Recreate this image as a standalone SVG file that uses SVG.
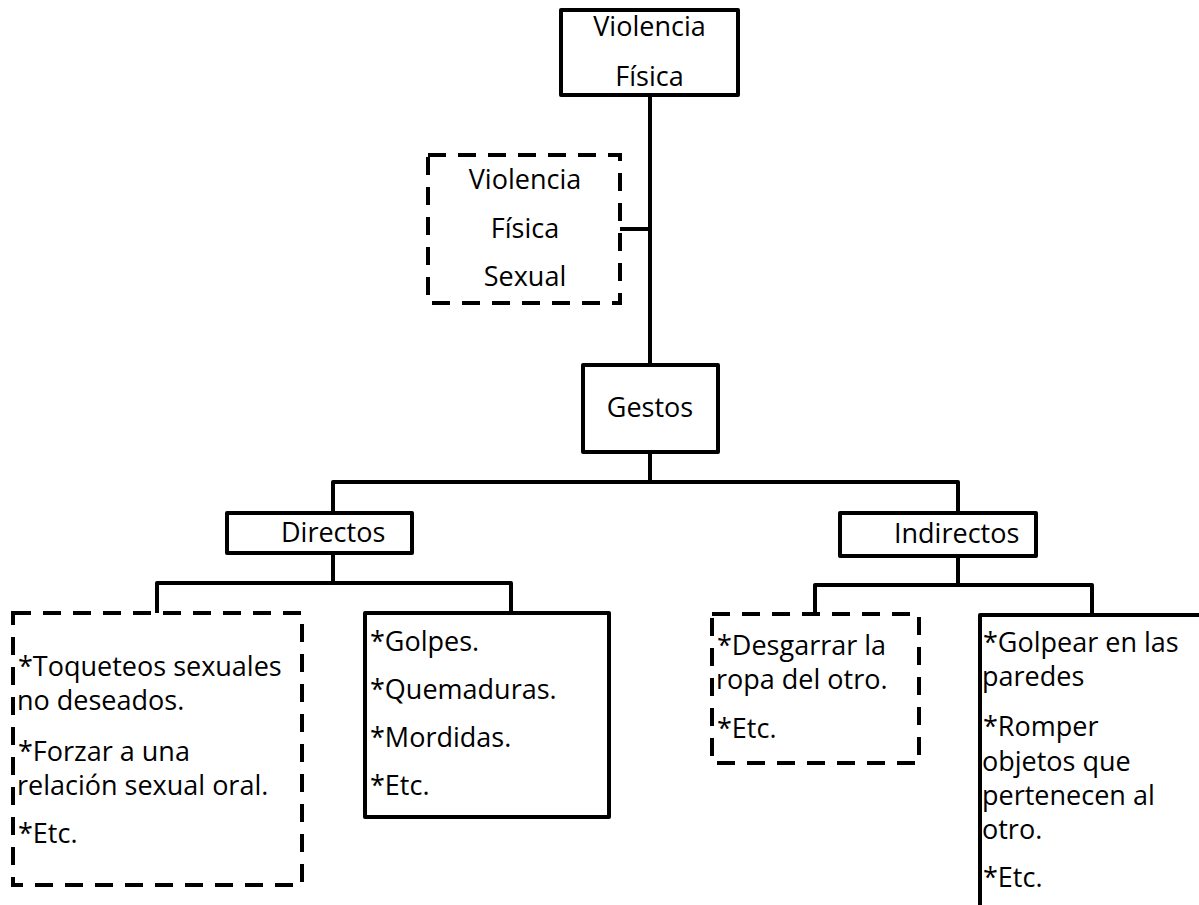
<svg xmlns="http://www.w3.org/2000/svg" width="1199" height="905" viewBox="0 0 1199 905">
<style>
.box{fill:#fff;stroke:#000;stroke-width:4;stroke-linejoin:round}
.dash{fill:#fff;stroke:#000;stroke-width:4;stroke-dasharray:18 12}
.ln{fill:none;stroke:#000;stroke-width:4;stroke-linejoin:round}
text{font-family:"Open Sans","Noto Sans",sans-serif;font-size:27px;fill:#000}
.c{text-anchor:middle}
</style>
<rect width="1199" height="905" fill="#fff"/>
<g id="connectors">
<path class="ln" d="M650 95 V365"/>
<path class="ln" d="M620 229 H650"/>
<path class="ln" d="M650 452 V482 M333 513 V482 H958 V513"/>
<path class="ln" d="M333 553 V583 M157 613 V583 H511 V613"/>
<path class="ln" d="M958 556 V585 M815 614 V585 H1092 V615"/>
</g>
<g id="n-violencia-fisica">
<rect class="box" x="561" y="10" width="177" height="85"/>
<text class="c" x="649.5" y="36">Violencia</text>
<text class="c" x="649.5" y="86">Física</text>
</g>
<g id="n-vfs">
<rect class="dash" x="428" y="155" width="192" height="148"/>
<text class="c" x="525" y="189">Violencia</text>
<text class="c" x="525" y="238">Física</text>
<text class="c" x="525" y="286">Sexual</text>
</g>
<g id="n-gestos">
<rect class="box" x="583" y="365" width="135" height="87"/>
<text class="c" x="650" y="417">Gestos</text>
</g>
<g id="n-directos">
<rect class="box" x="227" y="513" width="185" height="40"/>
<text x="281" y="542">Directos</text>
</g>
<g id="n-indirectos">
<rect class="box" x="840" y="513" width="196" height="43"/>
<text x="894" y="543">Indirectos</text>
</g>
<g id="n-directos-sexual">
<rect class="dash" x="13" y="613" width="289" height="272"/>
<text x="18" y="676">*Toqueteos sexuales</text>
<text x="17" y="710">no deseados.</text>
<text x="18" y="761">*Forzar a una</text>
<text x="17" y="795">relación sexual oral.</text>
<text x="18" y="843">*Etc.</text>
</g>
<g id="n-directos-fisico">
<rect class="box" x="365" y="613" width="244" height="204"/>
<text x="370" y="651">*Golpes.</text>
<text x="370" y="699">*Quemaduras.</text>
<text x="370" y="747">*Mordidas.</text>
<text x="370" y="795">*Etc.</text>
</g>
<g id="n-indirectos-sexual">
<rect class="dash" x="712" y="614" width="207" height="149"/>
<text x="717" y="655">*Desgarrar la</text>
<text x="716" y="689">ropa del otro.</text>
<text x="717" y="738">*Etc.</text>
</g>
<g id="n-indirectos-fisico">
<rect class="box" x="980" y="615" width="230" height="300"/>
<text x="983" y="652">*Golpear en las</text>
<text x="982" y="686">paredes</text>
<text x="983" y="736">*Romper</text>
<text x="982" y="771">objetos que</text>
<text x="982" y="805">pertenecen al</text>
<text x="982" y="839">otro.</text>
<text x="983" y="887">*Etc.</text>
</g>
</svg>
